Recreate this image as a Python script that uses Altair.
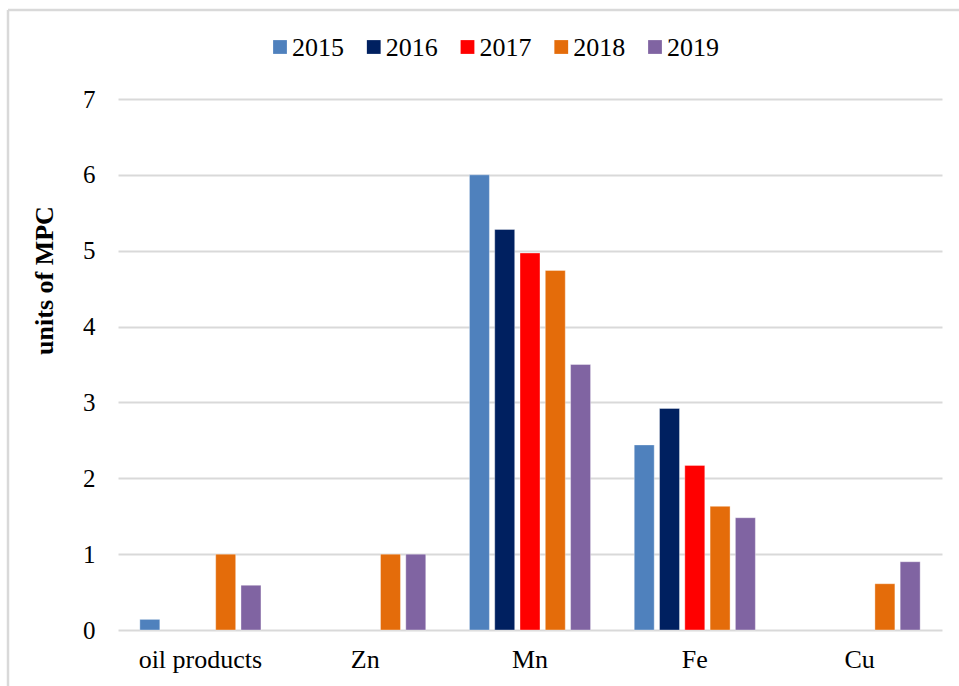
import altair as alt
import pandas as pd

categories = ["oil products", "Zn", "Mn", "Fe", "Cu"]
years = ["2015", "2016", "2017", "2018", "2019"]
colors = ["#4F81BD", "#002060", "#FF0000", "#E46C0A", "#8064A2"]

v2015 = [0.14, None, 6.00, 2.44, None]
v2016 = [None, None, 5.28, 2.92, None]
v2017 = [None, None, 4.97, 2.17, None]
v2018 = [1.00, 1.00, 4.74, 1.63, 0.61]
v2019 = [0.59, 1.00, 3.50, 1.48, 0.90]

series = {"2015": v2015, "2016": v2016, "2017": v2017, "2018": v2018, "2019": v2019}
rows = []
for yr in years:
    for cat, val in zip(categories, series[yr]):
        if val is not None:
            rows.append({"category": cat, "year": yr, "value": val})
df = pd.DataFrame(rows)
legend_df = pd.DataFrame({"year": years})

FONT = "Liberation Serif"
color_scale = alt.Scale(domain=years, range=colors)

bars = alt.Chart(df).mark_bar(stroke="white", strokeWidth=0.6, strokeOpacity=0.6).encode(
    x=alt.X("category:N", sort=categories,
            scale=alt.Scale(domain=categories, paddingInner=0.265, paddingOuter=0.1325),
            axis=alt.Axis(title=None, labelAngle=0, labelFontSize=26, labelFont=FONT,
                          labelColor="black", ticks=False, domain=False, labelPadding=16)),
    xOffset=alt.XOffset("year:N", scale=alt.Scale(domain=years, paddingInner=0.21, paddingOuter=0)),
    y=alt.Y("value:Q", scale=alt.Scale(domain=[0, 7], nice=False),
            axis=alt.Axis(title="units of MPC", values=[0, 1, 2, 3, 4, 5, 6, 7],
                          labelFontSize=25, labelFont=FONT, labelColor="black",
                          ticks=False, domain=False, labelPadding=23,
                          gridColor="#d9d9d9", gridWidth=2,
                          titleFont=FONT, titleFontSize=26, titleFontWeight="bold",
                          titleColor="black", titleAngle=270, titleX=-74, titleY=181,
                          titleAlign="center", titleBaseline="middle")),
    color=alt.Color("year:N", scale=color_scale, legend=None),
)

legend_x = alt.X("year:N", scale=alt.Scale(type="point", domain=years, range=[162, 537], padding=0),
                 axis=None)
legend_sq = alt.Chart(legend_df).mark_square(size=190, opacity=1).encode(
    x=legend_x, y=alt.value(-52),
    color=alt.Color("year:N", scale=color_scale, legend=None),
)
legend_txt = alt.Chart(legend_df).mark_text(
    align="left", baseline="middle", dx=12, dy=1, font=FONT, fontSize=26, color="black"
).encode(x=legend_x, y=alt.value(-52), text="year:N")

frame = pd.DataFrame({"a": [0]})
top_border = alt.Chart(frame).mark_rule(color="#d9d9d9", strokeWidth=2.5).encode(
    x=alt.value(-110), x2=alt.value(841), y=alt.value(-89))
left_border = alt.Chart(frame).mark_rule(color="#d9d9d9", strokeWidth=2.5).encode(
    x=alt.value(-110), y=alt.value(-89), y2=alt.value(587))

chart = alt.layer(bars, legend_sq, legend_txt, top_border, left_border).resolve_scale(
    x="independent"
).properties(
    width=824, height=531,
    padding={"left": 118, "top": 99, "right": 17, "bottom": 56},
    autosize="none",
    background="white",
).configure(font=FONT).configure_view(stroke=None)

chart.save("out.html", embed_options={"renderer": "svg", "actions": False})
